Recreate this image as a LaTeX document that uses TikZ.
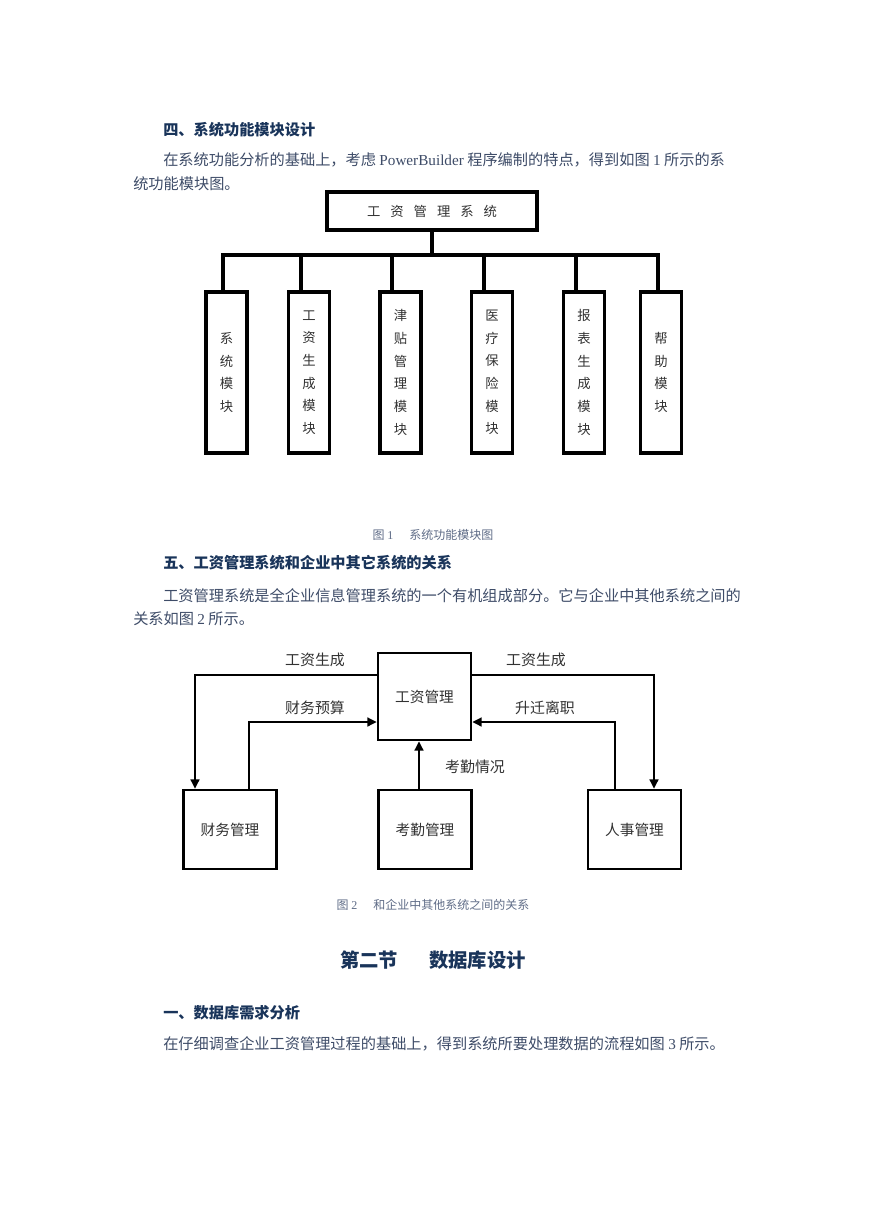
\documentclass[tikz,border=0pt]{standalone}
\usepackage{fontspec}
\setmainfont{Noto Sans CJK SC}
\newfontfamily\tnr{Liberation Serif}
\usetikzlibrary{arrows.meta}

\definecolor{headblue}{RGB}{25,52,90}
\definecolor{bodyblue}{RGB}{62,76,104}
\definecolor{capblue}{RGB}{95,108,135}
\definecolor{figtext}{RGB}{50,50,50}

\tikzset{
  heading/.style={anchor=west, inner sep=0pt, text=headblue,
    font=\bfseries\fontsize{11.4}{13}\selectfont},
  bodytext/.style={anchor=west, inner sep=0pt, text=bodyblue,
    font=\fontsize{11.4}{13}\selectfont},
  figcaption/.style={inner sep=0pt, text=capblue, font=\fontsize{9}{11}\selectfont},
  sysbox/.style={draw, line width=2.3pt, minimum width=157.5pt, minimum height=28.5pt,
    text=figtext, font=\fontsize{10}{12}\selectfont},
  modbox/.style={draw, line width=2.3pt, minimum width=30.75pt, minimum height=120.75pt,
    align=center, inner sep=0pt, text=figtext, font=\fontsize{10}{17}\selectfont},
  tree/.style={line width=2.3pt, line cap=rect},
  relbox/.style={draw, line width=1.9pt, minimum width=69.75pt, inner sep=0pt,
    text=figtext, font=\fontsize{11}{13}\selectfont},
  flow/.style={line width=1.8pt, -{Triangle[length=7pt,width=6.5pt]}},
  flowlabel/.style={inner sep=0pt, text=figtext, font=\fontsize{11.2}{13}\selectfont}
}

\begin{document}
\begin{tikzpicture}[x=0.75pt, y=-0.75pt]
  \fill[white] (0,0) rectangle (869,1228);
  \useasboundingbox (0,0) rectangle (869,1228);

  % text above figure 1
  \node[heading] (h4) at (163,130) {四、系统功能模块设计};
  \node[bodytext] (p1a) at (163,160) {在系统功能分析的基础上，考虑 {\tnr PowerBuilder} 程序编制的特点，得到如图 {\tnr 1} 所示的系};
  \node[bodytext] (p1b) at (133,184) {统功能模块图。};

  % figure 1: module tree
  \node[sysbox] (sys) at (432,211) {工\hspace{7.5pt}资\hspace{7.5pt}管\hspace{7.5pt}理\hspace{7.5pt}系\hspace{7.5pt}统};
  \node[modbox] (m1) at (226.5,372.5) {系\\统\\模\\块};
  \node[modbox] (m2) at (309,372.5) {工\\资\\生\\成\\模\\块};
  \node[modbox] (m3) at (400.5,372.5) {津\\贴\\管\\理\\模\\块};
  \node[modbox] (m4) at (492,372.5) {医\\疗\\保\\险\\模\\块};
  \node[modbox] (m5) at (584,372.5) {报\\表\\生\\成\\模\\块};
  \node[modbox] (m6) at (661,372.5) {帮\\助\\模\\块};
  \coordinate (bar) at (432,255);
  \draw[tree] (sys.south) -- (bar);
  \draw[tree] (223,255) -- (658,255);
  \foreach \x [count=\i] in {223,301,392,484,576,658}
    \draw[tree] (\x,255) -- (\x,255 |- m\i.north);
  \node[figcaption] (cap1) at (433,535) {图 {\tnr 1}\hspace{12pt}系统功能模块图};

  % text above figure 2
  \node[heading] (h5) at (163,563) {五、工资管理系统和企业中其它系统的关系};
  \node[bodytext] (p2a) at (163,596) {工资管理系统是全企业信息管理系统的一个有机组成部分。它与企业中其他系统之间的};
  \node[bodytext] (p2b) at (133,619) {关系如图 {\tnr 2} 所示。};

  % figure 2: relations
  \node[relbox, minimum height=65.25pt] (wage) at (424.5,696.5) {工资管理};
  \node[relbox, minimum height=59.25pt] (fin) at (230,829.5) {财务管理};
  \node[relbox, minimum height=59.25pt] (att) at (425,829.5) {考勤管理};
  \node[relbox, minimum height=59.25pt] (hr) at (634.5,829.5) {人事管理};
  \coordinate (lt) at (195,675);
  \coordinate (rt) at (654,675);
  \coordinate (lb) at (249,722);
  \coordinate (rb) at (615,722);
  \coordinate (mv) at (419,765);
  \draw[flow] (lt -| wage.west) -- (lt) -- (lt |- fin.north);
  \draw[flow] (rt -| wage.east) -- (rt) -- (rt |- hr.north);
  \draw[flow] (lb |- fin.north) -- (lb) -- (lb -| wage.west);
  \draw[flow] (rb |- hr.north) -- (rb) -- (rb -| wage.east);
  \draw[flow] (mv |- att.north) -- (mv |- wage.south);
  \node[flowlabel] (lab1) at (315,660) {工资生成};
  \node[flowlabel] (lab2) at (536,660) {工资生成};
  \node[flowlabel] (lab3) at (315,708) {财务预算};
  \node[flowlabel] (lab4) at (545,708) {升迁离职};
  \node[flowlabel] (lab5) at (475,767) {考勤情况};
  \node[figcaption] (cap2) at (433,905) {图 {\tnr 2}\hspace{12pt}和企业中其他系统之间的关系};

  % section 2
  \node[inner sep=0pt, text=headblue, font=\bfseries\fontsize{14.5}{17}\selectfont]
    (sec2) at (433,960) {第二节\hspace{1.6em}数据库设计};
  \node[heading] (h1) at (163,1013) {一、数据库需求分析};
  \node[bodytext] (p3) at (163,1044) {在仔细调查企业工资管理过程的基础上，得到系统所要处理数据的流程如图 {\tnr 3} 所示。};
\end{tikzpicture}
\end{document}
